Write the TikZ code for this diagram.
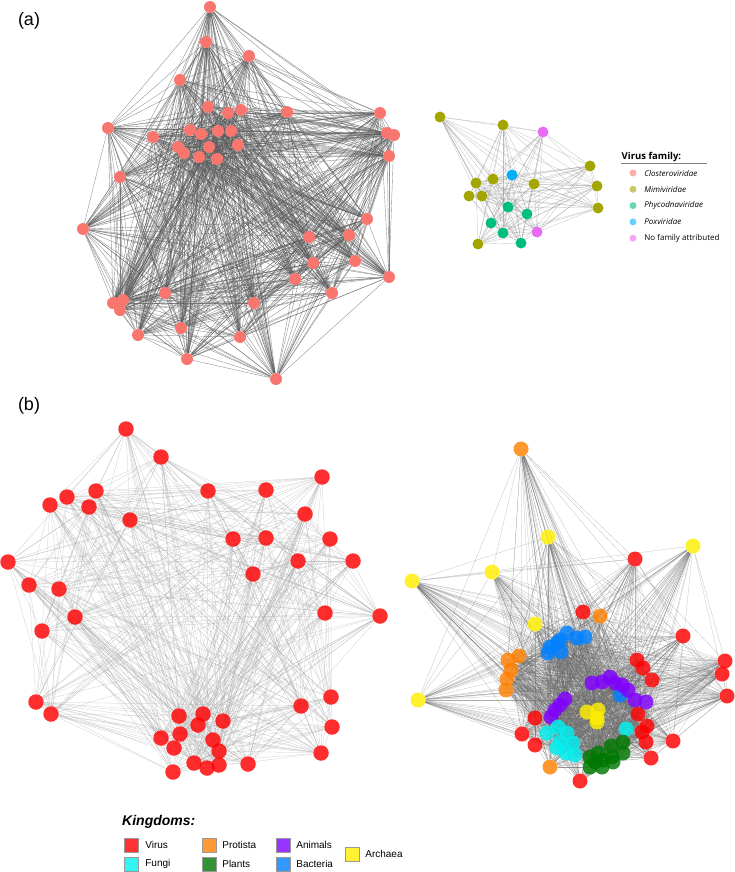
\documentclass[tikz,border=0pt]{standalone}
\usepackage{fontspec}
\setmainfont{Liberation Sans}
\newfontfamily\famfont{Open Sans}
\usepackage{tikz}
\usetikzlibrary{positioning, backgrounds}
\definecolor{clostero}{HTML}{F8766D}
\definecolor{mimi}{HTML}{A3A500}
\definecolor{phyco}{HTML}{00BF7D}
\definecolor{poxv}{HTML}{00B0F6}
\definecolor{nofam}{HTML}{E76BF3}
\definecolor{kvirus}{HTML}{FF0000}
\definecolor{kfungi}{HTML}{00F0F0}
\definecolor{kprot}{HTML}{FF8000}
\definecolor{kplant}{HTML}{007800}
\definecolor{kanim}{HTML}{8000FF}
\definecolor{kbact}{HTML}{0080FF}
\definecolor{karch}{HTML}{FFEE00}

\begin{document}
\begin{tikzpicture}[
    x=1pt, y=-1pt,
    vnode/.style={circle, inner sep=0pt, minimum size=12pt},
    knode/.style={circle, inner sep=0pt, minimum size=15.5pt, fill opacity=0.82},
    edgeA/.style={draw=black!65, line width=0.4pt, opacity=0.65},
    edgeF/.style={draw=black!45, line width=0.3pt, opacity=0.55},
    edgeB/.style={draw=black!35, line width=0.25pt, opacity=0.6},
    edgeC/.style={draw=black!60, line width=0.25pt, opacity=0.45},
    panel/.style={font=\fontsize{18}{20}\selectfont},
    famdot/.style={circle, inner sep=0pt, minimum size=7pt, fill opacity=0.6},
    famtxt/.style={inner sep=0.5pt, font=\famfont\fontsize{8}{9}\selectfont},
    swatch/.style={draw=black!40, line width=0.3pt, fill opacity=0.8, minimum size=14pt, inner sep=0pt},
    legtxt/.style={inner sep=1pt, font=\fontsize{10}{12}\selectfont}
]
    \useasboundingbox (0,0) rectangle (735,872);

    % Panel labels
    \node[panel] (lbla) at (29,21) {(a)};
    \node[panel] (lblb) at (29,406) {(b)};

    % (a) Closteroviridae network
    \foreach \x/\y [count=\i] in {210/7, 206/42, 249/56, 180/80, 208/107, 228/113, 241/110, 287/112, 380/113, 108/128,
        153/137, 190/130, 201/134, 218/131, 231/131, 238/145, 209/147, 178/147, 184/153, 199/157,
        217/159, 387/133, 394/135, 389/156, 120/177, 83/229, 367/219, 309/237, 349/235, 313/263,
        355/261, 295/279, 389/277, 332/293, 165/293, 113/303, 123/300, 120/310, 254/303, 138/335,
        181/328, 240/337, 187/359, 276/379}
        \node[vnode, fill=clostero] (cl\i) at (\x,\y) {};

    % (a) second network
    \foreach \x/\y/\c [count=\i] in {440/117/mimi, 503/125/mimi, 590/166/mimi, 597/186/mimi, 598/208/mimi,
        476/183/mimi, 493/179/mimi, 534/184/mimi, 469/196/mimi, 482/196/mimi, 478/244/mimi,
        512/175/poxv, 508/207/phyco, 527/214/phyco, 491/223/phyco, 503/233/phyco, 521/243/phyco,
        543/132/nofam, 537/232/nofam}
        \node[vnode, minimum size=11pt, fill=\c] (vf\i) at (\x,\y) {};

    % (a) legend
    \node[anchor=west, inner sep=0.5pt, font=\famfont\bfseries\fontsize{9.5}{11}\selectfont] (famhead) at (621,157) {Virus family:};
    \coordinate (famrule) at (707,163);
    \draw[black!50, line width=0.5pt] (famhead.west |- famrule) -- (famrule);
    \foreach \c/\t [count=\i] in {clostero/\textit{Closteroviridae}, mimi/\textit{Mimiviridae},
        phyco/\textit{Phycodnaviridae}, poxv/\textit{Poxviridae}, nofam/No family attributed}
    {
        \node[famdot, fill=\c] (fd\i) at (633,{156.7+16.3*\i}) {};
        \node[famtxt, right=7pt of fd\i] (ft\i) {\t};
    }

    % (b) virus-only network
    \foreach \x/\y [count=\i] in {126/429, 161/457, 322/477, 96/491, 67/497, 50/505, 89/507, 208/491, 266/490, 130/520,
        305/514, 233/539, 266/538, 330/539, 298/561, 353/561, 253/574, 8/562, 29/585, 59/589,
        75/617, 42/631, 325/613, 380/616, 36/702, 51/714, 331/697, 301/706, 332/727, 321/753,
        179/716, 203/714, 198/725, 223/721, 180/734, 161/738, 213/740, 174/748, 219/751, 194/763,
        207/768, 219/765, 248/764, 173/772}
        \node[knode, fill=kvirus] (bv\i) at (\x,\y) {};

    % (b) all kingdoms network
    \foreach \x/\y/\c [count=\i] in {548/537/karch, 693/546/karch, 492/572/karch, 412/581/karch, 535/624/karch,
        418/700/karch, 587/712/karch, 598/710/karch, 597/718/karch, 597/722/karch,
        521/449/kprot, 600/616/kprot, 519/656/kprot, 508/660/kprot, 511/670/kprot, 507/679/kprot,
        506/690/kprot, 550/767/kprot,
        635/559/kvirus, 583/612/kvirus, 683/636/kvirus, 725/661/kvirus, 722/674/kvirus, 727/696/kvirus,
        673/741/kvirus, 651/758/kvirus, 580/781/kvirus, 637/660/kvirus, 643/668/kvirus, 652/680/kvirus,
        535/718/kvirus, 522/734/kvirus, 535/745/kvirus, 638/714/kvirus, 647/726/kvirus, 642/732/kvirus,
        646/742/kvirus,
        550/647/kbact, 560/640/kbact, 567/633/kbact, 577/638/kbact, 585/637/kbact, 548/653/kbact,
        561/652/kbact, 557/643/kbact, 620/695/kbact,
        592/683/kanim, 602/682/kanim, 610/677/kanim, 615/683/kanim, 622/685/kanim, 628/690/kanim,
        635/700/kanim, 646/702/kanim, 565/699/kanim, 560/705/kanim, 555/710/kanim, 551/717/kanim,
        547/733/kfungi, 558/727/kfungi, 567/733/kfungi, 560/742/kfungi, 573/743/kfungi, 557/748/kfungi,
        566/753/kfungi, 575/755/kfungi, 626/729/kfungi,
        590/757/kplant, 598/753/kplant, 611/746/kplant, 623/742/kplant, 623/753/kplant, 612/757/kplant,
        603/760/kplant, 590/767/kplant, 602/767/kplant, 613/762/kplant, 595/762/kplant}
        \node[knode, minimum size=15pt, fill=\c] (br\i) at (\x,\y) {};

    % Connections
    \begin{scope}[on background layer]
        \foreach \i in {1,...,43} {
            \pgfmathtruncatemacro\k{\i+1}
            \foreach \j in {\k,...,44} {
                \pgfmathtruncatemacro\r{mod(mod(31*\i,97)*mod(17*\j,89)+\i+\j,100)}
                \ifnum\r<92 \draw[edgeA] (cl\i) -- (cl\j); \fi
                \ifnum\r<55 \draw[edgeB] (bv\i) -- (bv\j); \fi
            }
        }
        \foreach \i in {1,...,18} {
            \pgfmathtruncatemacro\k{\i+1}
            \foreach \j in {\k,...,19} {
                \pgfmathtruncatemacro\r{mod(mod(31*\i,97)*mod(17*\j,89)+\i+\j,100)}
                \ifnum\r<85 \draw[edgeF] (vf\i) -- (vf\j); \fi
            }
        }
        \foreach \i in {1,...,77} {
            \pgfmathtruncatemacro\k{\i+1}
            \foreach \j in {\k,...,78} {
                \pgfmathtruncatemacro\r{mod(mod(31*\i,97)*mod(17*\j,89)+\i+\j,100)}
                \ifnum\r<55 \draw[edgeC] (br\i) -- (br\j); \fi
            }
        }
    \end{scope}

    % Kingdom legend
    \node[anchor=west, inner sep=0pt, font=\bfseries\itshape\fontsize{14}{16}\selectfont] (kinghead) at (122,822) {Kingdoms:};
    \node[swatch, fill=kvirus] (swvirus) at (131,845) {};
    \node[legtxt, right=6pt of swvirus] (txvirus) {Virus};
    \node[swatch, fill=kfungi] (swfungi) at (131,864) {};
    \node[legtxt, right=6pt of swfungi] (txfungi) {Fungi};
    \node[swatch, fill=kprot] (swprot) at (209,845) {};
    \node[legtxt, right=5pt of swprot] (txprot) {Protista};
    \node[swatch, fill=kplant] (swplant) at (209,864) {};
    \node[legtxt, right=5pt of swplant] (txplant) {Plants};
    \node[swatch, fill=kanim] (swanim) at (283,845) {};
    \node[legtxt, right=5pt of swanim] (txanim) {Animals};
    \node[swatch, fill=kbact] (swbact) at (283,864) {};
    \node[legtxt, right=5pt of swbact] (txbact) {Bacteria};
    \node[swatch, fill=karch] (swarch) at (352,854) {};
    \node[legtxt, right=5pt of swarch] (txarch) {Archaea};
\end{tikzpicture}
\end{document}
